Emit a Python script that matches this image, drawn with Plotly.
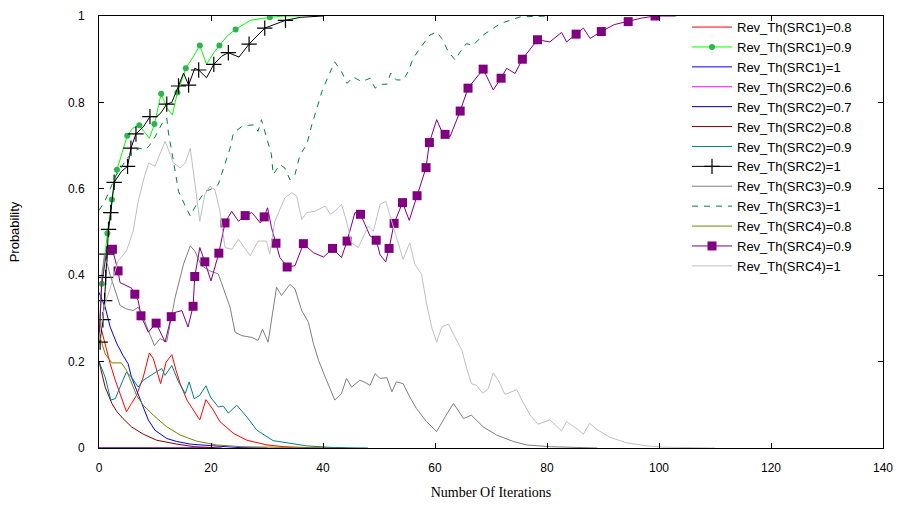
import plotly.graph_objects as go

# ---------------- data ----------------
names = ["Rev_Th(SRC1)=0.8", "Rev_Th(SRC1)=0.9", "Rev_Th(SRC1)=1",
         "Rev_Th(SRC2)=0.6", "Rev_Th(SRC2)=0.7", "Rev_Th(SRC2)=0.8",
         "Rev_Th(SRC2)=0.9", "Rev_Th(SRC2)=1", "Rev_Th(SRC3)=0.9",
         "Rev_Th(SRC3)=1", "Rev_Th(SRC4)=0.8", "Rev_Th(SRC4)=0.9",
         "Rev_Th(SRC4)=1"]

src1_08_x = [0, 1.1, 2, 2.9, 3.8, 4.9, 5.8, 6.7, 7.9, 9, 9.7, 10.3, 11, 12, 13, 13.75, 14.5, 15.7, 18, 19.1,
             20.4, 21.6, 24, 26.4, 30, 33, 38, 44]
src1_08_y = [0.296, 0.241, 0.195, 0.157, 0.126, 0.084, 0.103, 0.122, 0.164, 0.22, 0.207, 0.18, 0.149, 0.199,
             0.216, 0.18, 0.149, 0.111, 0.065, 0.112, 0.088, 0.061, 0.034, 0.018, 0.007, 0.003, 0.0005, 0]

src1_09_x = [0, 0.5, 1.5, 2.3, 3.2, 4.2, 5.05, 6, 7.2, 8.2, 9, 9.9, 11.1, 12.1, 13.1, 14.0, 15.5, 16.8, 18.0,
             19.2, 20.5, 21.5, 23, 24.4, 27, 30.5, 33, 36]
src1_09_y = [0.25, 0.38, 0.497, 0.575, 0.644, 0.69, 0.723, 0.74, 0.747, 0.73, 0.717, 0.75, 0.82, 0.788, 0.771,
             0.823, 0.879, 0.905, 0.932, 0.888, 0.915, 0.932, 0.955, 0.969, 0.99, 0.997, 1.0, 1.0]
src1_09_marks = [1, 2, 3, 4, 6, 8, 11, 12, 15, 16, 18, 21, 23, 25]

src1_1_x = [0, 1.1, 2, 3.2, 4.3, 5.2, 5.8, 6.7, 7.6, 8.8, 10, 12.1, 13.9, 16.3, 20.4, 25, 30]
src1_1_y = [0.36, 0.326, 0.28, 0.241, 0.214, 0.195, 0.164, 0.134, 0.103, 0.065, 0.041, 0.022, 0.015, 0.009,
            0.005, 0.001, 0]

src2_06_x = [0, 10, 20]
src2_06_y = [0, 0, 0]

src2_07_x = [0, 10, 20]
src2_07_y = [0, 0, 0]

src2_08_x = [0, 0.5, 1.1, 2.3, 3.2, 4.3, 5.8, 7.9, 10.3, 13.9, 17, 22]
src2_08_y = [0.2, 0.17, 0.141, 0.103, 0.084, 0.068, 0.049, 0.032, 0.018, 0.009, 0.003, 0]

src2_09_x = [0, 1.1, 2.1, 2.9, 3.75, 4.9, 5.8, 7, 7.9, 10.3, 11.2, 11.8, 13, 14.2, 15.4, 16.1, 17, 18, 19.1,
             19.9, 21.3, 22.2, 23.1, 24.6, 26.4, 28.2, 31.1, 34.1, 37, 42, 48]
src2_09_y = [0.2, 0.164, 0.111, 0.114, 0.141, 0.176, 0.164, 0.141, 0.157, 0.176, 0.184, 0.168, 0.191, 0.153,
             0.126, 0.153, 0.114, 0.122, 0.144, 0.118, 0.095, 0.097, 0.081, 0.099, 0.072, 0.041, 0.017, 0.011,
             0.005, 0.001, 0]

src2_1_x = [0.2, 0.7, 1.0, 1.2, 1.4, 1.7, 2.1, 2.7, 4, 5.1, 5.7, 6.6, 8, 9.1, 10.3, 11, 12.1, 13, 14.2, 15.1,
            16, 17.1, 17.8, 19.2, 20.5, 21.9, 23.1, 25, 26.8, 29.6, 33.3, 36, 40]
src2_1_y = [0.245, 0.297, 0.341, 0.395, 0.449, 0.506, 0.545, 0.615, 0.64, 0.652, 0.694, 0.727, 0.745, 0.767,
            0.767, 0.775, 0.796, 0.80, 0.838, 0.868, 0.840, 0.879, 0.875, 0.857, 0.888, 0.907, 0.915, 0.905,
            0.935, 0.972, 0.99, 0.997, 1.0]
src2_1_marks = [0, 1, 2, 3, 4, 5, 6, 7, 9, 10, 11, 13, 16, 18, 20, 22, 24, 26, 28, 29, 30]

src3_09_x = [0, 0.5, 1, 2, 2.9, 3.75, 4.9, 6.1, 7, 7.9, 8.8, 9.9, 10.9, 12.1, 13.6, 15.1, 16.3, 17.1, 18.3,
             19.8, 21.3, 22.2, 23.4, 24.3, 25.5, 27.3, 28.4, 29.2, 30.2, 31.7, 32.6, 34.1, 35, 36.2, 37.4,
             38.3, 39.2, 40.4, 42.1, 43.3, 44.2, 45.1, 46.6, 47.5, 48.4, 49.3, 50.2, 51.4, 52.3, 53.1, 54.3,
             55.5, 56.7, 58.5, 60.3, 61.8, 63.3, 65.1, 66.5, 68.6, 71, 74, 76.4, 80.6, 89]
src3_09_y = [0.25, 0.40, 0.45, 0.40, 0.364, 0.33, 0.322, 0.318, 0.326, 0.303, 0.272, 0.237, 0.253, 0.246,
             0.349, 0.426, 0.468, 0.456, 0.422, 0.41, 0.403, 0.372, 0.326, 0.268, 0.26, 0.256, 0.249, 0.275,
             0.245, 0.372, 0.353, 0.379, 0.368, 0.318, 0.291, 0.241, 0.203, 0.164, 0.111, 0.126, 0.161,
             0.141, 0.157, 0.152, 0.145, 0.172, 0.161, 0.163, 0.13, 0.153, 0.149, 0.118, 0.091, 0.061, 0.038,
             0.072, 0.103, 0.068, 0.076, 0.049, 0.03, 0.015, 0.007, 0.003, 0]

src3_1_x = [0, 1, 2, 3, 4, 5, 6, 7.3, 8.2, 9, 10, 11.2, 12.1, 12.4, 13.3, 14.2, 15.7, 16.3, 17.4, 18.9, 19.8,
            20.4, 21.3, 22.5, 23.4, 24, 25.5, 26.7, 27.6, 28.4, 29, 29.6, 30.8, 31.1, 32.3, 33.2, 34.1, 35,
            35.9, 37.1, 38, 38.9, 39.8, 40.9, 42.1, 43.3, 44.3, 45.4, 46.9, 48.4, 49.3, 50.5, 51.4, 52.1,
            53.1, 54.3, 55.2, 56.1, 57.3, 59.1, 60.3, 61.2, 62.4, 63.6, 64.5, 65.6, 66.8, 68.6, 71.6, 75.2,
            80.6]
src3_1_y = [0.55, 0.57, 0.6, 0.63, 0.65, 0.67, 0.685, 0.694, 0.69, 0.70, 0.72, 0.75, 0.764, 0.729, 0.664,
            0.594, 0.552, 0.537, 0.564, 0.594, 0.598, 0.602, 0.61, 0.66, 0.694, 0.729, 0.744, 0.747, 0.748,
            0.733, 0.76, 0.733, 0.679, 0.633, 0.656, 0.648, 0.621, 0.633, 0.679, 0.702, 0.748, 0.786, 0.825,
            0.859, 0.894, 0.871, 0.844, 0.859, 0.848, 0.856, 0.833, 0.842, 0.842, 0.868, 0.852, 0.852, 0.871,
            0.902, 0.925, 0.956, 0.963, 0.948, 0.917, 0.898, 0.917, 0.936, 0.932, 0.956, 0.982, 0.998, 1.0]

src4_08_x = [0, 1.1, 2.3, 4, 4.9, 5.8, 6.7, 7.9, 9.7, 12.1, 14.5, 17.4, 21, 25.5, 32, 40]
src4_08_y = [0.265, 0.218, 0.197, 0.197, 0.18, 0.149, 0.122, 0.099, 0.076, 0.049, 0.03, 0.016, 0.007, 0.003,
             0.001, 0]

src4_09_x = [0, 0.5, 1.2, 1.7, 2.4, 3.4, 3.75, 4.9, 5.8, 6.4, 7, 7.5, 8.8, 9.6, 10.2, 11.8, 12.9, 13.6, 14.8,
             15.9, 16.8, 17.1, 18, 18.9, 20, 21.4, 22.5, 23.7, 24.9, 26.1, 27.3, 28.8, 29.5, 30.1, 30.8, 31.6,
             32.3, 33.6, 35, 36.5, 38.3, 40.1, 41.7, 43.3, 44.3, 45.7, 46.7, 48.4, 49.5, 50.2, 51.2, 51.8,
             52.7, 54.2, 55.4, 56.8, 58.4, 59, 60.3, 61.2, 61.8, 62.7, 64.5, 65.9, 67.7, 68.6, 70.4, 71.8,
             72.8, 74.3, 75.6, 78.3, 80.5, 82.6, 83.5, 85.2, 86.5, 87.7, 89.7, 92, 94.5, 96.8, 99.3, 103]
src4_09_y = [0.25, 0.38, 0.44, 0.468, 0.46, 0.41, 0.383, 0.376, 0.37, 0.356, 0.341, 0.306, 0.268, 0.28, 0.289,
             0.245, 0.304, 0.314, 0.318, 0.28, 0.328, 0.397, 0.464, 0.431, 0.387, 0.451, 0.521, 0.548, 0.525,
             0.538, 0.545, 0.521, 0.535, 0.556, 0.51, 0.474, 0.441, 0.419, 0.422, 0.473, 0.452, 0.442, 0.462,
             0.441, 0.479, 0.545, 0.541, 0.491, 0.481, 0.447, 0.431, 0.462, 0.52, 0.568, 0.527, 0.584, 0.649,
             0.707, 0.76, 0.733, 0.726, 0.721, 0.78, 0.833, 0.863, 0.877, 0.829, 0.856, 0.879, 0.867, 0.9,
             0.945, 0.94, 0.962, 0.94, 0.958, 0.972, 0.948, 0.964, 0.98, 0.987, 0.995, 1.0, 1.0]
src4_09_marks = [4, 5, 9, 11, 14, 16, 20, 21, 23, 25, 26, 29, 32, 35, 37, 39, 42, 44, 46, 48, 51, 52, 53, 55,
                 56, 57, 60, 62, 63, 65, 67, 70, 71, 75, 78, 80, 82]

src4_1_x = [0, 1, 2, 3.4, 4.9, 6.1, 7, 8.2, 8.9, 10, 11.8, 13.3, 14.5, 15.4, 16.3, 17.1, 18, 18.9, 19.8, 20.7,
            21.6, 22.5, 23.7, 24.9, 27, 28.4, 29.9, 30.5, 31.4, 33.2, 34.4, 35.3, 36.2, 37.1, 38.6, 40.4,
            41.3, 42.1, 43.3, 44.2, 45.1, 46.3, 48.1, 49, 50.2, 51.2, 52.6, 54.3, 55.5, 56.4, 57.6, 58.5,
            59.4, 60.3, 61.2, 62.4, 63.6, 64.8, 65.6, 66.5, 67.4, 68.5, 69.5, 70.4, 71.3, 72.5, 74.6, 75.5,
            77, 78.4, 80.5, 82.6, 83.5, 85.3, 86.5, 87.6, 88.9, 91.2, 94.2, 97.8, 100.6, 110]
src4_1_y = [0.25, 0.33, 0.37, 0.433, 0.456, 0.502, 0.571, 0.633, 0.66, 0.652, 0.71, 0.66, 0.648, 0.66, 0.694,
            0.618, 0.525, 0.587, 0.606, 0.598, 0.548, 0.464, 0.46, 0.483, 0.445, 0.479, 0.479, 0.449, 0.525,
            0.579, 0.591, 0.583, 0.529, 0.545, 0.548, 0.56, 0.541, 0.548, 0.564, 0.525, 0.475, 0.464, 0.514,
            0.502, 0.564, 0.571, 0.51, 0.437, 0.475, 0.425, 0.402, 0.333, 0.28, 0.245, 0.28, 0.287, 0.256,
            0.226, 0.187, 0.149, 0.145, 0.127, 0.137, 0.174, 0.157, 0.124, 0.135, 0.111, 0.076, 0.055, 0.065,
            0.04, 0.061, 0.045, 0.032, 0.057, 0.043, 0.025, 0.012, 0.005, 0.002, 0]

x_ticks = [0, 20, 40, 60, 80, 100, 120, 140]
y_ticks = [0, 0.2, 0.4, 0.6, 0.8, 1]
y_tick_text = ["0", "0.2", "0.4", "0.6", "0.8", "1"]

# ---------------- styles ----------------
series = [
    (names[0], src1_08_x, src1_08_y, "#ff0000", "solid", None),
    (names[1], src1_09_x, src1_09_y, "#00ff00", "solid", (src1_09_marks, "circle", 6, "#2db34f")),
    (names[2], src1_1_x, src1_1_y, "#0000ff", "solid", None),
    (names[3], src2_06_x, src2_06_y, "#ff00ff", "solid", None),
    (names[4], src2_07_x, src2_07_y, "#000080", "solid", None),
    (names[5], src2_08_x, src2_08_y, "#800000", "solid", None),
    (names[6], src2_09_x, src2_09_y, "#008080", "solid", None),
    (names[7], src2_1_x, src2_1_y, "#000000", "solid", (src2_1_marks, "cross-thin-open", 11, "#000000")),
    (names[8], src3_09_x, src3_09_y, "#808080", "solid", None),
    (names[9], src3_1_x, src3_1_y, "#007f3f", "6px,6px", None),
    (names[10], src4_08_x, src4_08_y, "#808000", "solid", None),
    (names[11], src4_09_x, src4_09_y, "#800080", "solid", (src4_09_marks, "square", 9, "#800080")),
    (names[12], src4_1_x, src4_1_y, "#c0c0c0", "solid", None),
]

fig = go.Figure()
for name, xs, ys, color, dash, mk in series:
    assert len(xs) == len(ys), name
    if mk is None:
        fig.add_trace(go.Scatter(x=xs, y=ys, mode="lines", name=name,
                                 line=dict(color=color, width=1, dash=dash)))
    else:
        idx, sym, size, mcol = mk
        fig.add_trace(go.Scatter(x=xs, y=ys, mode="lines", showlegend=False,
                                 line=dict(color=color, width=1, dash=dash)))
        mline = dict(color=mcol, width=1.2) if "open" in sym else dict(width=0)
        fig.add_trace(go.Scatter(x=[xs[i] for i in idx], y=[ys[i] for i in idx], mode="markers",
                                 showlegend=False,
                                 marker=dict(symbol=sym, size=size, color=mcol, line=mline)))
        # legend proxy (no data drawn)
        fig.add_trace(go.Scatter(x=[None], y=[None], mode="lines+markers", name=name,
                                 line=dict(color=color, width=1, dash=dash),
                                 marker=dict(symbol=sym, size=size, color=mcol, line=mline)))

axis_common = dict(showline=True, linecolor="black", linewidth=1, mirror="ticks",
                   ticks="inside", ticklen=5, tickcolor="black", showgrid=False, zeroline=False,
                   automargin=False,
                   tickfont=dict(family="Liberation Sans, Arial", size=12, color="black"))

fig.update_layout(
    width=906, height=507,
    margin=dict(l=99, r=23, t=14, b=59),
    paper_bgcolor="white", plot_bgcolor="white",
    xaxis=dict(range=[0, 140], tickvals=x_ticks, ticklabelstandoff=9, **axis_common,
               title=dict(text="Number Of Iterations", standoff=12,
                          font=dict(family="Liberation Serif, Times New Roman", size=14, color="black"))),
    yaxis=dict(range=[0, 1], tickvals=y_ticks, ticktext=y_tick_text, ticklabelstandoff=11, **axis_common,
               title=dict(text="Probability", standoff=45,
                          font=dict(family="Liberation Sans, Arial", size=13, color="black"))),
    legend=dict(x=0.75, y=1.009, xanchor="left", yanchor="top", bgcolor="rgba(0,0,0,0)",
                font=dict(family="Liberation Sans, Arial", size=13, color="black"),
                itemwidth=40, tracegroupgap=0, maxheight=480),
    showlegend=True,
)

fig.write_html("out.html", config={"displayModeBar": False},
               post_script="document.body.style.margin='0px';")
